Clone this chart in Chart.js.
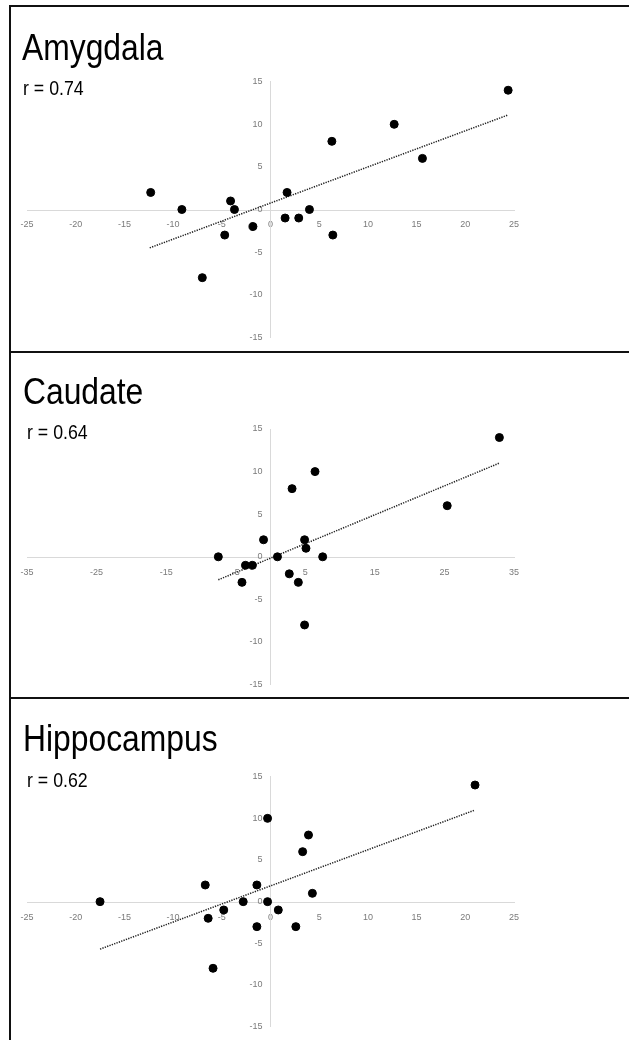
<!DOCTYPE html>
<html>
<head>
<meta charset="utf-8">
<script src="https://cdn.jsdelivr.net/npm/chart.js@4.4.1/dist/chart.umd.min.js"></script>
<style>
  html, body { margin: 0; padding: 0; background: #fff; width: 629px; height: 1040px; overflow: hidden; }
  .panel { position: absolute; left: 9px; width: 640px; border-top: 2px solid #111; border-left: 2px solid #111; box-sizing: border-box; }
  canvas { position: absolute; left: 0; }
  .title, .rlab { position: absolute; font-family: "Liberation Sans", Arial, sans-serif; color: #000; line-height: 1; white-space: nowrap; transform-origin: 0 0; }
  .title { font-size: 37px; transform: scaleX(0.86); }
  .rlab { font-size: 19.5px; transform: scaleX(0.91); }
</style>
</head>
<body>

<div class="panel" style="top:5px;height:350px"></div>
<div class="panel" style="top:351px;height:350px"></div>
<div class="panel" style="top:697px;height:350px"></div>

<canvas id="c1" width="629" height="346" style="top:6px"></canvas>
<canvas id="c2" width="629" height="346" style="top:352px"></canvas>
<canvas id="c3" width="629" height="342" style="top:698px"></canvas>

<div class="title" style="left:22px;top:28.5px">Amygdala</div>
<div class="rlab" style="left:23px;top:78.5px">r = 0.74</div>
<div class="title" style="left:23px;top:372.5px">Caudate</div>
<div class="rlab" style="left:27px;top:422.5px">r = 0.64</div>
<div class="title" style="left:23px;top:719.5px">Hippocampus</div>
<div class="rlab" style="left:27px;top:770.5px">r = 0.62</div>

<script>
// valeurs
const amygdalaX = [-12.3, -9.1, -7.0, -4.7, -4.1, -3.7, -1.8, 1.5, 1.7, 2.9, 4.0, 6.3, 6.4, 12.7, 15.6, 24.4];
const amygdalaY = [2, 0, -8, -3, 1, 0, -2, -1, 2, -1, 0, 8, -3, 10, 6, 14];
const amygdalaTrendX = [-12.4, 24.4];
const amygdalaTrendY = [-4.5, 11.1];

const caudateX = [-7.5, -4.1, -3.6, -2.6, -1.0, 1.0, 2.7, 3.1, 4.0, 4.9, 5.1, 4.9, 6.4, 7.5, 25.4, 32.9];
const caudateY = [0, -3, -1, -1, 2, 0, -2, 8, -3, 2, 1, -8, 10, 0, 6, 14];
const caudateTrendX = [-7.5, 32.9];
const caudateTrendY = [-2.7, 11.0];

const hippoX = [-17.5, -6.7, -6.4, -5.9, -4.8, -2.8, -1.4, -1.4, -0.3, -0.3, 0.8, 2.6, 3.3, 3.9, 4.3, 21.0];
const hippoY = [0, 2, -2, -8, -1, 0, 2, -3, 10, 0, -1, -3, 6, 8, 1, 14];
const hippoTrendX = [-17.5, 21.0];
const hippoTrendY = [-5.7, 11.0];

const xTicks25 = [-25, -20, -15, -10, -5, 0, 5, 10, 15, 20, 25];
const xTicks35 = [-35, -25, -15, -5, 5, 15, 25, 35];
const yTicks = [-15, -10, -5, 0, 5, 10, 15];

Chart.defaults.font.family = "'Liberation Sans', Arial, sans-serif";

function toPoints(xs, ys) {
  return xs.map((v, i) => ({ x: v, y: ys[i] }));
}

// les axes sont symétriques, donc "center" = croisement en 0
function makeChart(id, xs, ys, tx, ty, xTicks, pad) {
  const ctx = document.getElementById(id).getContext("2d");
  const tickFont = { size: 9 };
  return new Chart(ctx, {
    type: "scatter",
    data: {
      datasets: [
        {
          data: toPoints(xs, ys),
          backgroundColor: "#000",
          borderColor: "#000",
          pointRadius: 4,
          clip: false,
        },
        {
          type: "line",
          data: toPoints(tx, ty),
          borderColor: "#222",
          borderWidth: 1.5,
          borderDash: [1.3, 1.2],
          pointRadius: 0,
          fill: false,
          clip: false,
        },
      ],
    },
    options: {
      responsive: false,
      animation: false,
      layout: { padding: pad },
      plugins: { legend: { display: false }, tooltip: { enabled: false } },
      scales: {
        x: {
          type: "linear",
          position: "center",
          min: xTicks[0],
          max: xTicks[xTicks.length - 1],
          afterBuildTicks: (s) => { s.ticks = xTicks.map((v) => ({ value: v })); },
          grid: { display: false, drawTicks: false },
          border: { display: true, color: "#d9d9d9", width: 1 },
          ticks: { font: tickFont, color: "#7a7a7a", padding: 10, maxRotation: 0, autoSkip: false },
        },
        y: {
          type: "linear",
          position: "center",
          min: yTicks[0],
          max: yTicks[yTicks.length - 1],
          afterBuildTicks: (s) => { s.ticks = yTicks.map((v) => ({ value: v })); },
          grid: { display: false, drawTicks: false },
          border: { display: true, color: "#d9d9d9", width: 1 },
          ticks: { font: tickFont, color: "#7a7a7a", padding: 8, autoSkip: false },
        },
      },
    },
  });
}

makeChart("c1", amygdalaX, amygdalaY, amygdalaTrendX, amygdalaTrendY, xTicks25,
  { left: 27, right: 115, top: 75.7, bottom: 14.7 });
makeChart("c2", caudateX, caudateY, caudateTrendX, caudateTrendY, xTicks35,
  { left: 27, right: 115, top: 77, bottom: 13 });
makeChart("c3", hippoX, hippoY, hippoTrendX, hippoTrendY, xTicks25,
  { left: 27, right: 115, top: 78.7, bottom: 9.3 });
</script>
</body>
</html>
